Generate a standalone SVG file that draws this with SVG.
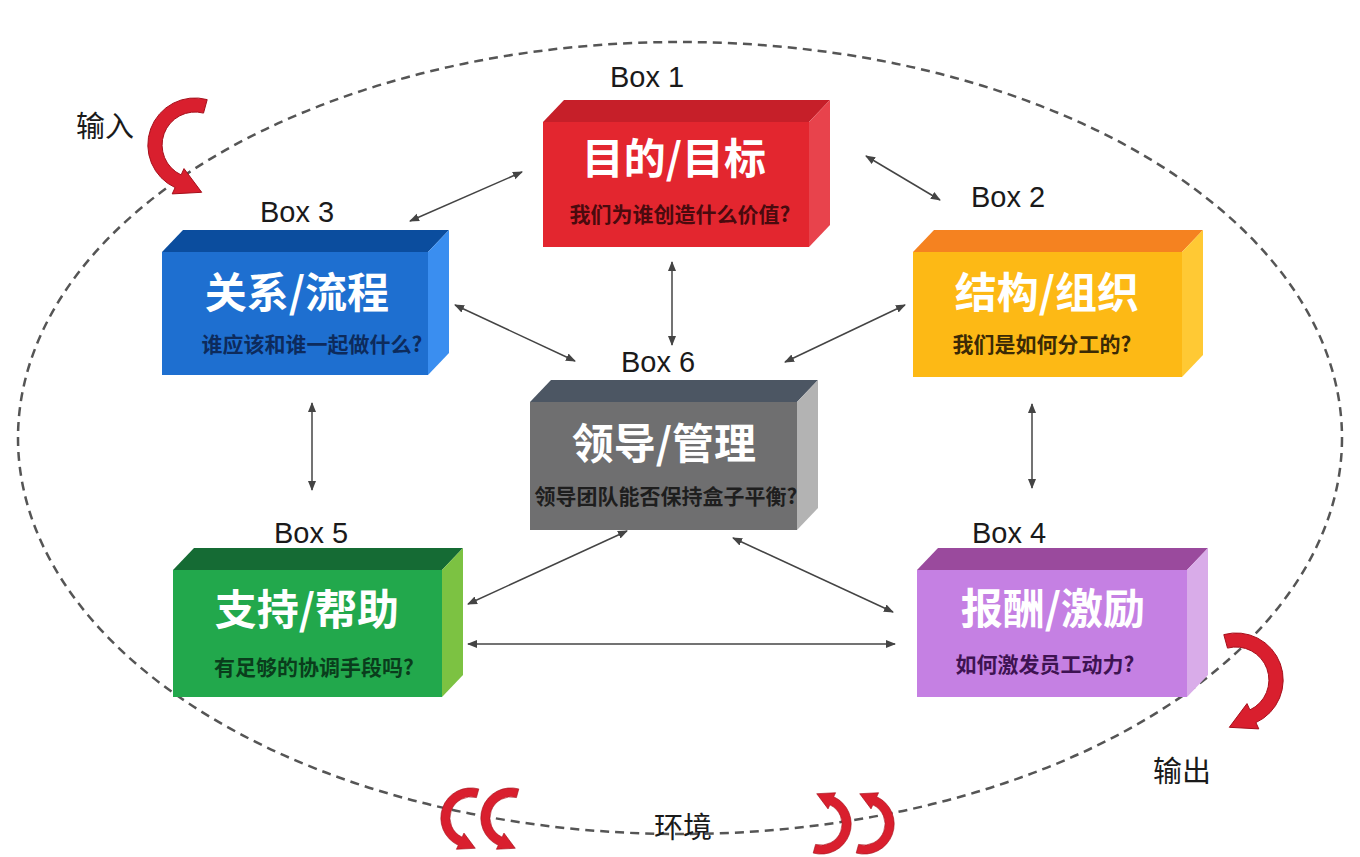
<svg xmlns="http://www.w3.org/2000/svg" width="1360" height="857" viewBox="0 0 1360 857">
<style>
.lbl{font-family:"Liberation Sans","Noto Sans",sans-serif;font-size:29px;fill:#1a1a1a;text-anchor:middle}
.ttl{font-family:"Noto Sans CJK SC",sans-serif;font-weight:bold;font-size:42px;fill:#ffffff;text-anchor:middle;dominant-baseline:central}
.sub{font-family:"Noto Sans CJK SC",sans-serif;font-weight:bold;font-size:21px;text-anchor:middle;dominant-baseline:central}
.cn{font-family:"Noto Sans CJK SC",sans-serif;font-size:29px;fill:#1a1a1a;text-anchor:middle;dominant-baseline:central}
.con{stroke:#444;stroke-width:1.5;fill:none;marker-start:url(#ah);marker-end:url(#ah)}
.red{fill:#d91f2e;stroke:#a50f1b;stroke-width:1}
</style>
<defs>
<marker id="ah" viewBox="0 0 10 10" refX="9" refY="5" markerWidth="10" markerHeight="10" markerUnits="userSpaceOnUse" orient="auto-start-reverse">
<path d="M0,1 L10,5 L0,9 Z" fill="#444"/>
</marker>
<path id="carrow" d="M 12.2,-45.4 A 47 47 0 0 0 -19.9,42.6 L -22.8,48.9 L 6.7,47.3 L -11.0,23.6 L -13.9,29.9 A 33 33 0 0 1 8.5,-31.9 Z"/>
</defs>
<rect width="1360" height="857" fill="#ffffff"/>
<ellipse cx="680" cy="438" rx="662" ry="396" fill="none" stroke="#555" stroke-width="2.5" stroke-dasharray="9 6"/>

<g id="connectors">
<line class="con" x1="522" y1="172" x2="410" y2="221"/>
<line class="con" x1="866" y1="156" x2="940" y2="200"/>
<line class="con" x1="672" y1="262" x2="672" y2="345"/>
<line class="con" x1="455" y1="305" x2="575" y2="361"/>
<line class="con" x1="905" y1="305" x2="785" y2="362"/>
<line class="con" x1="312" y1="403" x2="312" y2="490"/>
<line class="con" x1="1032" y1="404" x2="1032" y2="488"/>
<line class="con" x1="627" y1="531" x2="468" y2="604"/>
<line class="con" x1="733" y1="538" x2="893" y2="612"/>
<line class="con" x1="468" y1="644" x2="895" y2="644"/>
</g>

<g id="box1">
<text class="lbl" x="647" y="87">Box 1</text>
<polygon points="543,122 564,100 830,100 809,122" fill="#c61f29"/>
<polygon points="809,122 830,100 830,225 809,247" fill="#e8434c"/>
<rect x="543" y="122" width="266" height="125" fill="#e3262f"/>
<text class="ttl" x="674" y="155">目的/目标</text>
<text class="sub" x="680" y="213" fill="#4a0a0e">我们为谁创造什么价值?</text>
</g>

<g id="box2">
<text class="lbl" x="1008" y="207">Box 2</text>
<polygon points="913,252 934,230 1203,230 1182,252" fill="#f58220"/>
<polygon points="1182,252 1203,230 1203,355 1182,377" fill="#ffc934"/>
<rect x="913" y="252" width="269" height="125" fill="#fdb915"/>
<text class="ttl" x="1047" y="289">结构/组织</text>
<text class="sub" x="1042" y="343" fill="#3b2a05">我们是如何分工的?</text>
</g>

<g id="box3">
<text class="lbl" x="297" y="222">Box 3</text>
<polygon points="162,252 183,230 449,230 428,252" fill="#0b4d9e"/>
<polygon points="428,252 449,230 449,353 428,375" fill="#3a8ef0"/>
<rect x="162" y="252" width="266" height="123" fill="#1e6fd0"/>
<text class="ttl" x="297" y="289">关系/流程</text>
<text class="sub" x="312" y="343" fill="#0d2b5c">谁应该和谁一起做什么?</text>
</g>

<g id="box4">
<text class="lbl" x="1009" y="543">Box 4</text>
<polygon points="917,570 938,548 1208,548 1187,570" fill="#9a4a9d"/>
<polygon points="1187,570 1208,548 1208,675 1187,697" fill="#d9ace9"/>
<rect x="917" y="570" width="270" height="127" fill="#c580e3"/>
<text class="ttl" x="1053" y="605">报酬/激励</text>
<text class="sub" x="1045" y="663" fill="#3e1352">如何激发员工动力?</text>
</g>

<g id="box5">
<text class="lbl" x="311" y="543">Box 5</text>
<polygon points="173,570 194,548 463,548 442,570" fill="#156b34"/>
<polygon points="442,570 463,548 463,675 442,697" fill="#7cc242"/>
<rect x="173" y="570" width="269" height="127" fill="#22a84c"/>
<text class="ttl" x="307" y="606">支持/帮助</text>
<text class="sub" x="314" y="666" fill="#0a3d1c">有足够的协调手段吗?</text>
</g>

<g id="box6">
<text class="lbl" x="658" y="372">Box 6</text>
<polygon points="530,402 551,380 818,380 797,402" fill="#4c5663"/>
<polygon points="797,402 818,380 818,508 797,530" fill="#b3b3b3"/>
<rect x="530" y="402" width="267" height="128" fill="#6f6f70"/>
<text class="ttl" x="664" y="440">领导/管理</text>
<text class="sub" x="666" y="495" fill="#1e1e1e">领导团队能否保持盒子平衡?</text>
</g>

<g id="input">
<use href="#carrow" class="red" transform="translate(195,145)"/>
<text class="cn" x="105" y="124">输入</text>
</g>
<g id="output">
<use href="#carrow" class="red" transform="translate(1236,680) scale(-1,1)"/>
<text class="cn" x="1182" y="769">输出</text>
</g>
<g id="environment">
<use href="#carrow" class="red" transform="translate(471,818) scale(0.64)"/>
<use href="#carrow" class="red" transform="translate(511,818) scale(0.64)"/>
<use href="#carrow" class="red" transform="translate(821,824) rotate(180) scale(0.64)"/>
<use href="#carrow" class="red" transform="translate(864,824) rotate(180) scale(0.64)"/>
<text class="cn" x="683" y="825">环境</text>
</g>
</svg>
